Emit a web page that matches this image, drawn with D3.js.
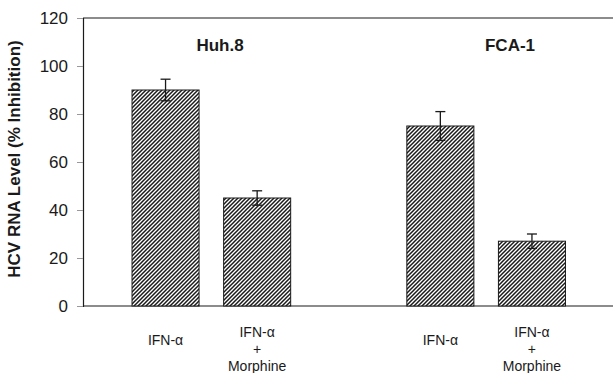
<!DOCTYPE html>
<html>
<head>
<meta charset="utf-8">
<script src="https://cdn.jsdelivr.net/npm/d3@7"></script>
<style>
  body { margin: 0; background: #fff; }
  svg { display: block; font-family: "Liberation Sans", Arial, sans-serif; }
</style>
</head>
<body>
<svg id="chart" width="613" height="373"></svg>
<script>
// data
var slots = ["huh_ifn", "huh_morph", "gap", "fca_ifn", "fca_morph"];
var bars = ["huh_ifn", "huh_morph", "fca_ifn", "fca_morph"];
var values = [90, 45, 75, 27];
var errors = [4.5, 3, 6, 3];
var barLabels = [["IFN-α"], ["IFN-α", "+", "Morphine"], ["IFN-α"], ["IFN-α", "+", "Morphine"]];
var groups = ["Huh.8", "FCA-1"];
var groupCenters = [220, 510];
var yTicks = [0, 20, 40, 60, 80, 100, 120];

var svg = d3.select("#chart");
// plot edges (not "top": that's window.top)
var plotL = 83, plotR = 613, plotT = 18, plotB = 306;
var ink = "#1a1a1a";

var y = d3.scaleLinear().domain([0, 120]).range([plotB, plotT]);
var x = d3.scaleBand().domain(slots).range([119.75, 577.75])
    .paddingInner(0.268).paddingOuter(0.134);

// hatch pattern
var pat = svg.append("defs").append("pattern")
    .attr("id", "hatch").attr("patternUnits", "userSpaceOnUse")
    .attr("width", 4).attr("height", 4);
pat.append("rect").attr("width", 4).attr("height", 4).attr("fill", "#fff");
pat.append("path").attr("d", "M-1,1 l2,-2 M0,4 l4,-4 M3,5 l2,-2")
    .attr("stroke", ink).attr("stroke-width", 1.5);

// y axis
var yAxis = svg.append("g").attr("transform", "translate(" + plotL + ",0)")
    .call(d3.axisLeft(y).tickValues(yTicks).tickSize(6).tickPadding(9));
yAxis.select(".domain").attr("stroke", ink).attr("stroke-width", 1.2);
yAxis.selectAll(".tick line").attr("stroke", "#999");
yAxis.selectAll("text").attr("font-size", 17).attr("fill", ink);

// top and bottom lines
svg.append("line").attr("x1", plotL).attr("x2", plotR).attr("y1", y(120)).attr("y2", y(120))
    .attr("stroke", ink).attr("stroke-width", 1.2);
svg.append("line").attr("x1", plotL).attr("x2", plotR).attr("y1", y(0)).attr("y2", y(0))
    .attr("stroke", ink).attr("stroke-width", 1.2);

// bars
svg.selectAll(".bar").data(bars).enter().append("rect")
    .attr("x", function(d) { return x(d); })
    .attr("y", function(d, i) { return y(values[i]); })
    .attr("width", x.bandwidth())
    .attr("height", function(d, i) { return y(0) - y(values[i]); })
    .attr("fill", "url(#hatch)").attr("stroke", ink).attr("stroke-width", 1);

// error bars + category labels
bars.forEach(function(d, i) {
  var cx = x(d) + x.bandwidth() / 2;
  var g = svg.append("g").attr("stroke", ink).attr("stroke-width", 1.3);
  g.append("line").attr("x1", cx).attr("x2", cx)
      .attr("y1", y(values[i] + errors[i])).attr("y2", y(values[i] - errors[i]));
  g.append("line").attr("x1", cx - 5).attr("x2", cx + 5)
      .attr("y1", y(values[i] + errors[i])).attr("y2", y(values[i] + errors[i]));
  g.append("line").attr("x1", cx - 5).attr("x2", cx + 5)
      .attr("y1", y(values[i] - errors[i])).attr("y2", y(values[i] - errors[i]));

  var t = svg.append("text").attr("text-anchor", "middle").attr("font-size", 14).attr("fill", ink);
  var lines = barLabels[i];
  var y0 = lines.length == 1 ? 345 : 337;
  lines.forEach(function(s, j) {
    t.append("tspan").attr("x", cx).attr("y", y0 + j * 17).text(s);
  });
});

// group titles
groups.forEach(function(g, i) {
  svg.append("text").attr("x", groupCenters[i]).attr("y", 51)
      .attr("text-anchor", "middle").attr("font-size", 17).attr("font-weight", "bold")
      .attr("fill", ink).text(g);
});

// y title
svg.append("text").attr("transform", "translate(20,159) rotate(-90)")
    .attr("text-anchor", "middle").attr("font-size", 17).attr("font-weight", "bold")
    .attr("fill", ink).text("HCV RNA Level (% Inhibition)");
</script>
</body>
</html>
